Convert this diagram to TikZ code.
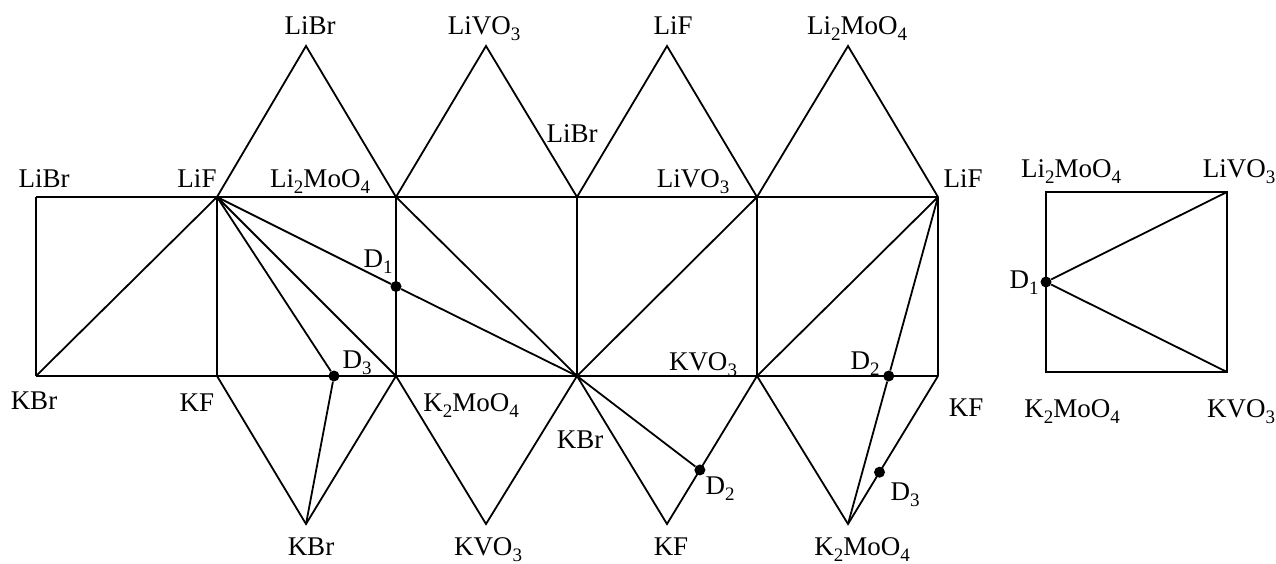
\documentclass[tikz,border=0pt]{standalone}
\usepackage{fontspec}
\setmainfont{Liberation Serif}
\usetikzlibrary{calc}
\newcommand{\chemsub}[1]{\raisebox{-6pt}{\fontsize{19}{19}\selectfont #1}}
\tikzset{
phase/.style={anchor=base, inner sep=0pt, font=\fontsize{27}{30}\selectfont},
eutectic/.style={circle, fill=black, inner sep=0pt, minimum size=11pt},
edge/.style={line width=1.8pt, line join=miter}
}

\begin{document}
\begin{tikzpicture}[x=1pt,y=-1pt]
    \useasboundingbox (0,0) rectangle (1276,564);
    % corners of the unfolded prism
    \coordinate (t_0) at (36,197);
    \coordinate (t_1) at (217,197);
    \coordinate (t_2) at (396,197);
    \coordinate (t_3) at (577,197);
    \coordinate (t_4) at (757,197);
    \coordinate (t_5) at (938,197);
    \coordinate (b_0) at (36,376);
    \coordinate (b_1) at (217,376);
    \coordinate (b_2) at (396,376);
    \coordinate (b_3) at (577,376);
    \coordinate (b_4) at (757,376);
    \coordinate (b_5) at (938,376);
    \coordinate (a_1) at (306,46);
    \coordinate (a_2) at (486,46);
    \coordinate (a_3) at (667,46);
    \coordinate (a_4) at (848,46);
    \coordinate (c_1) at (306,524);
    \coordinate (c_2) at (486,524);
    \coordinate (c_3) at (667,524);
    \coordinate (c_4) at (848,524);
    % square on the right
    \coordinate (r_1) at (1046,192);
    \coordinate (r_2) at (1227,192);
    \coordinate (r_3) at (1227,372);
    \coordinate (r_4) at (1046,372);

    % outline
    \draw[edge] (t_0) -- (t_5);
    \draw[edge] (b_0) -- (b_5);
    \draw[edge] (t_0) -- (b_0);
    \draw[edge] (t_1) -- (b_1);
    \draw[edge] (t_2) -- (b_2);
    \draw[edge] (t_3) -- (b_3);
    \draw[edge] (t_4) -- (b_4);
    \draw[edge] (t_5) -- (b_5);
    \draw[edge] (t_1) -- (a_1) -- (t_2) -- (a_2) -- (t_3) -- (a_3) -- (t_4) -- (a_4) -- (t_5);
    \draw[edge] (b_1) -- (c_1) -- (b_2) -- (c_2) -- (b_3) -- (c_3) -- (b_4) -- (c_4) -- (b_5);
    \draw[edge] (r_1) rectangle (r_3);

    % points
    \node[eutectic] (d1_a) at ($(t_2)!0.5!(b_2)$) {};
    \node[eutectic] (d3_a) at (334,376) {};
    \node[eutectic] (d2_a) at (intersection of t_5--c_4 and b_4--b_5) {};
    \node[eutectic] (d2_b) at ($(b_4)!0.635!(c_3)$) {};
    \node[eutectic] (d3_b) at ($(b_5)!0.65!(c_4)$) {};
    \node[eutectic] (d1_c) at ($(r_1)!0.5!(r_4)$) {};

    % triangulation
    \draw[edge] (b_0) -- (t_1);
    \draw[edge] (t_1) -- (d3_a) -- (c_1);
    \draw[edge] (t_1) -- (b_2);
    \draw[edge] (t_1) -- (d1_a) -- (b_3);
    \draw[edge] (t_2) -- (b_3);
    \draw[edge] (b_3) -- (t_4);
    \draw[edge] (b_3) -- (d2_b);
    \draw[edge] (t_5) -- (b_4);
    \draw[edge] (t_5) -- (d2_a) -- (c_4);
    \draw[edge] (r_2) -- (d1_c) -- (r_3);

    % labels
    \node[phase] (l_1) at (310,35) {LiBr};
    \node[phase] (l_2) at (484,35) {LiVO\chemsub{3}};
    \node[phase] (l_3) at (673,35) {LiF};
    \node[phase] (l_4) at (857,35) {Li\chemsub{2}MoO\chemsub{4}};
    \node[phase] (l_5) at (572,143) {LiBr};
    \node[phase] (l_6) at (44,187) {LiBr};
    \node[phase] (l_7) at (197,187) {LiF};
    \node[phase] (l_8) at (320,187) {Li\chemsub{2}MoO\chemsub{4}};
    \node[phase] (l_9) at (693,187) {LiVO\chemsub{3}};
    \node[phase] (l_10) at (963,187) {LiF};
    \node[phase] (l_11) at (378,267) {D\chemsub{1}};
    \node[phase] (l_12) at (357,368) {D\chemsub{3}};
    \node[phase] (l_13) at (703,370) {KVO\chemsub{3}};
    \node[phase] (l_14) at (865,369) {D\chemsub{2}};
    \node[phase] (l_15) at (34,409) {KBr};
    \node[phase] (l_16) at (197,411) {KF};
    \node[phase] (l_17) at (471,411) {K\chemsub{2}MoO\chemsub{4}};
    \node[phase] (l_18) at (580,448) {KBr};
    \node[phase] (l_19) at (966,416) {KF};
    \node[phase] (l_20) at (720,494) {D\chemsub{2}};
    \node[phase] (l_21) at (905,500) {D\chemsub{3}};
    \node[phase] (l_22) at (311,555) {KBr};
    \node[phase] (l_23) at (488,555) {KVO\chemsub{3}};
    \node[phase] (l_24) at (671,555) {KF};
    \node[phase] (l_25) at (862,555) {K\chemsub{2}MoO\chemsub{4}};
    \node[phase] (l_26) at (1071,178) {Li\chemsub{2}MoO\chemsub{4}};
    \node[phase] (l_27) at (1239,178) {LiVO\chemsub{3}};
    \node[phase] (l_28) at (1024,288) {D\chemsub{1}};
    \node[phase] (l_29) at (1072,417) {K\chemsub{2}MoO\chemsub{4}};
    \node[phase] (l_30) at (1241,417) {KVO\chemsub{3}};
\end{tikzpicture}
\end{document}
